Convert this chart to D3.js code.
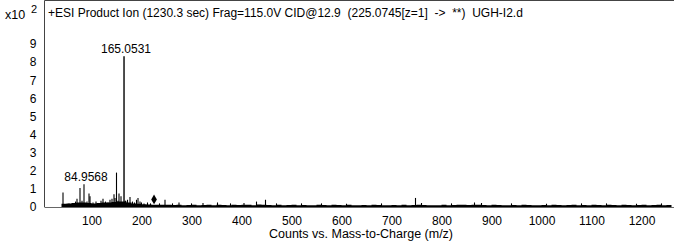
<!DOCTYPE html>
<html>
<head>
<meta charset="utf-8">
<script src="https://cdn.jsdelivr.net/npm/d3@7"></script>
<style>
  body { margin: 0; background: #fff; }
  svg { display: block; font-family: "Liberation Sans", Arial, sans-serif; }
</style>
</head>
<body>
<div id="chart"></div>
<script>
// spectrum values (intensity in units of 10^2 counts)
var peakMz = [43, 55, 60, 68, 71, 77, 81, 85, 91, 95, 97, 103, 109, 115, 119, 123, 128, 133, 137, 141, 145, 147, 150, 153, 155, 159, 165.0531, 168, 172, 177, 182, 186, 190, 193, 197, 200, 205, 212, 218, 236, 247, 262, 275, 300, 323, 352, 378, 405, 430, 448, 470, 520, 560, 610, 680, 748, 760, 820, 866, 880, 940, 1010, 1080, 1130, 1190, 1240];
var peakInt = [0.8, 0.2, 0.15, 0.3, 0.45, 1.05, 0.35, 1.25, 0.3, 0.75, 0.6, 0.25, 0.3, 0.2, 0.35, 0.45, 0.3, 0.25, 0.4, 0.45, 0.7, 0.5, 1.9, 0.35, 0.75, 0.6, 8.32, 0.35, 0.4, 0.55, 0.3, 0.25, 0.4, 0.5, 0.3, 0.25, 0.2, 0.25, 0.2, 0.2, 0.4, 0.2, 0.25, 0.2, 0.22, 0.25, 0.2, 0.22, 0.3, 0.4, 0.2, 0.2, 0.2, 0.18, 0.2, 0.5, 0.22, 0.2, 0.25, 0.22, 0.2, 0.18, 0.2, 0.2, 0.18, 0.2];

// baseline noise level, one value every 10 m/z from 40
var noiseStart = 40;
var noiseLevel = [0.18, 0.2, 0.22, 0.25, 0.25, 0.22, 0.2, 0.22, 0.25, 0.25, 0.28, 0.3, 0.3, 0.25, 0.2, 0.18, 0.15, 0.14, 0.13, 0.12,
  0.12, 0.13, 0.11, 0.12, 0.1, 0.11, 0.12, 0.1, 0.11, 0.12, 0.1, 0.13, 0.11, 0.1, 0.12, 0.11, 0.13, 0.12, 0.1, 0.14,
  0.12, 0.11, 0.1, 0.12, 0.1, 0.11, 0.12, 0.1, 0.11, 0.09, 0.1, 0.12, 0.11, 0.1, 0.12, 0.11, 0.1, 0.12, 0.1, 0.09,
  0.11, 0.1, 0.12, 0.11, 0.1, 0.09, 0.11, 0.1, 0.12, 0.1, 0.11, 0.13, 0.11, 0.1, 0.09, 0.1, 0.12, 0.1, 0.11, 0.13,
  0.12, 0.11, 0.12, 0.13, 0.11, 0.1, 0.12, 0.11, 0.1, 0.09, 0.11, 0.1, 0.12, 0.11, 0.1, 0.09, 0.11, 0.1, 0.12, 0.11,
  0.1, 0.11, 0.12, 0.1, 0.11, 0.1, 0.12, 0.11, 0.1, 0.12, 0.11, 0.1, 0.12, 0.11, 0.1, 0.11, 0.12, 0.1, 0.11, 0.12,
  0.1, 0.11, 0.12];

var labels = [{ mz: 165.0531, text: "165.0531" }, { mz: 85, text: "84.9568" }];
var precursor = { mz: 225.0745, intensity: 0.42 };

var xTicks = [100, 200, 300, 400, 500, 600, 700, 800, 900, 1000, 1100, 1200];
var yTicks = [0, 1, 2, 3, 4, 5, 6, 7, 8, 9];
var title = "+ESI Product Ion (1230.3 sec) Frag=115.0V CID@12.9  (225.0745[z=1]  ->  **)  UGH-I2.d";
var xTitle = "Counts vs. Mass-to-Charge (m/z)";

var svgWidth = 674;
var svgHeight = 243;
var plotLeft = 44.5, plotTop = 0.5, plotBottom = 207;

var svg = d3.select("#chart")
  .append("svg")
  .attr("width", svgWidth)
  .attr("height", svgHeight);

var x = d3.scaleLinear().domain([6, 1265]).range([plotLeft, svgWidth]);
var y = d3.scaleLinear().domain([0, 11.43]).range([plotBottom, 0]);

// noise band
var noise = noiseLevel.map(function (v, i) { return { mz: noiseStart + i * 10, v: v }; });
svg.append("path")
  .datum(noise)
  .attr("fill", "#000")
  .attr("d", d3.area()
    .curve(d3.curveStepAfter)
    .x(d => x(d.mz))
    .y0(plotBottom)
    .y1(d => y(d.v)));

// sticks
svg.selectAll(".peak")
  .data(peakMz)
  .enter()
  .append("line")
  .attr("class", "peak")
  .attr("x1", d => x(d))
  .attr("x2", d => x(d))
  .attr("y1", plotBottom)
  .attr("y2", (d, i) => y(peakInt[i]))
  .attr("stroke", "#000")
  .attr("stroke-width", (d, i) => peakInt[i] > 5 ? 1.4 : 1.1);

// precursor marker
svg.append("path")
  .attr("d", d3.symbol().type(d3.symbolDiamond).size(28))
  .attr("transform", `translate(${x(precursor.mz)}, ${y(precursor.intensity)})`)
  .attr("fill", "#000");

// peak labels
svg.selectAll(".plabel")
  .data(labels)
  .enter()
  .append("text")
  .attr("class", "plabel")
  .attr("x", d => x(d.mz) + 2)
  .attr("y", d => y(peakInt[peakMz.indexOf(d.mz)]) - 3.5)
  .attr("text-anchor", "middle")
  .attr("font-size", "12px")
  .attr("fill", "#000")
  .text(d => d.text);

// axes
var yAxis = d3.axisLeft(y).tickValues(yTicks).tickSize(0).tickPadding(8);
svg.append("g")
  .attr("transform", `translate(${plotLeft}, 0)`)
  .call(yAxis)
  .call(g => g.select(".domain").remove())
  .selectAll("text")
  .attr("font-size", "12px")
  .attr("font-family", "Liberation Sans, Arial, sans-serif")
  .attr("fill", "#000");

var xAxis = d3.axisBottom(x).tickValues(xTicks).tickFormat(d3.format("d")).tickSize(0).tickPadding(9.5);
svg.append("g")
  .attr("transform", `translate(0, ${plotBottom})`)
  .call(xAxis)
  .call(g => g.select(".domain").remove())
  .selectAll("text")
  .attr("font-size", "12px")
  .attr("font-family", "Liberation Sans, Arial, sans-serif")
  .attr("fill", "#000");

// frame
svg.append("path")
  .attr("d", `M${plotLeft},${plotBottom}V${plotTop}H${svgWidth}`)
  .attr("fill", "none")
  .attr("stroke", "#444")
  .attr("stroke-width", 1);
svg.append("line")
  .attr("x1", plotLeft).attr("x2", svgWidth)
  .attr("y1", plotBottom + 0.5).attr("y2", plotBottom + 0.5)
  .attr("stroke", "#666")
  .attr("stroke-width", 1);

// titles
svg.append("text")
  .attr("x", 48)
  .attr("y", 17)
  .attr("font-size", "12px")
  .attr("fill", "#000")
  .style("white-space", "pre")
  .text(title);

svg.append("text")
  .attr("x", 5)
  .attr("y", 19)
  .attr("font-size", "12.5px")
  .attr("fill", "#000")
  .text("x10");
svg.append("text")
  .attr("x", 31)
  .attr("y", 13)
  .attr("font-size", "11px")
  .attr("fill", "#000")
  .text("2");

svg.append("text")
  .attr("x", 361)
  .attr("y", 238)
  .attr("text-anchor", "middle")
  .attr("font-size", "12.5px")
  .attr("fill", "#000")
  .text(xTitle);
</script>
</body>
</html>
